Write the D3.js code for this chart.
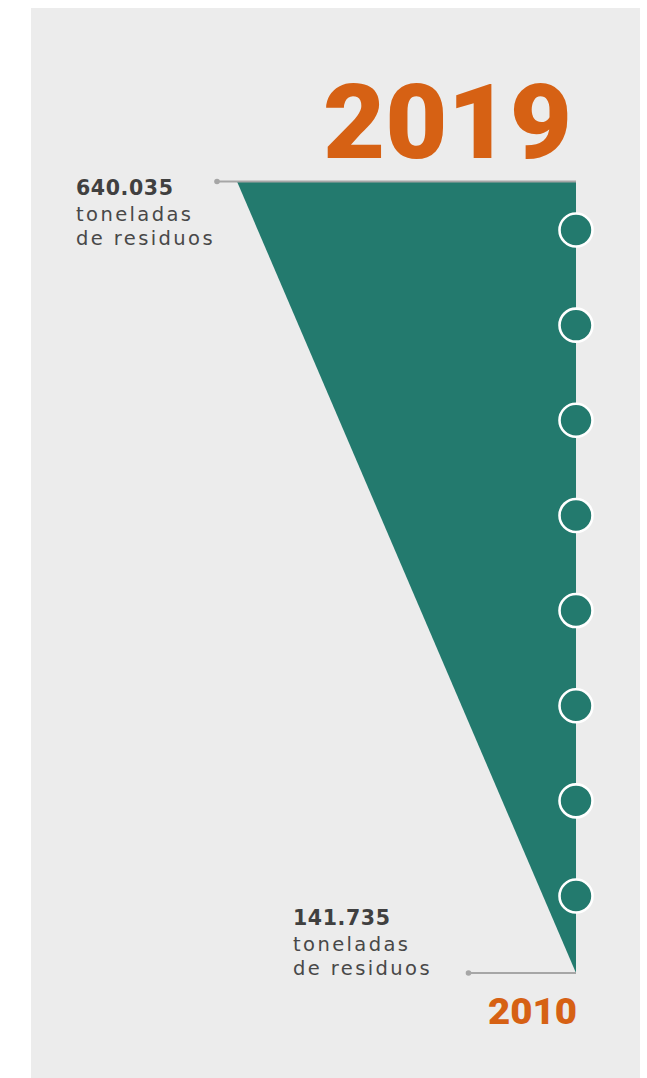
<!DOCTYPE html>
<html><head><meta charset="utf-8">
<script src="https://cdn.jsdelivr.net/npm/d3@7/dist/d3.min.js"></script>
<style>html,body{margin:0;padding:0;background:#fff;}svg{display:block;}</style>
</head><body>
<script>
const years = [2010, 2019];
const values = [141735, 640035];
const valueLabels = ["141.735", "640.035"];
const unitLines = ["toneladas", "de residuos"];
const markerYears = [2011, 2012, 2013, 2014, 2015, 2016, 2017, 2018];

const W = 647, H = 1078;
const svg = d3.select("body").append("svg").attr("width", W).attr("height", H);
svg.append("rect").attr("x", 31).attr("y", 8).attr("width", 609).attr("height", H - 8).attr("fill", "#ececec");

const right = 576;
const y = d3.scaleLinear().domain([2010, 2019]).range([973, 181.5]);
const w = d3.scaleLinear().domain([values[0], values[1]]).range([0, 339]);
const ym = d3.scalePoint().domain(markerYears).range([230, 896]);

const data = years.map((yr, i) => ({yr, v: values[i]}));
const area = d3.area().x0(d => right - w(d.v)).x1(right).y(d => y(d.yr));
svg.append("path").datum(data).attr("d", area).attr("fill", "#237a6e");

// leader lines
const leaders = [
  {yr: 2019, x0: 217},
  {yr: 2010, x0: 468.5}
];
leaders.forEach(l => {
  svg.append("line").attr("x1", l.x0).attr("x2", right).attr("y1", y(l.yr)).attr("y2", y(l.yr))
    .attr("stroke", "#a6a6a6").attr("stroke-width", 2);
  svg.append("circle").attr("cx", l.x0).attr("cy", y(l.yr)).attr("r", 2.8).attr("fill", "#a6a6a6");
});

svg.selectAll("circle.m").data(markerYears).join("circle").attr("class", "m")
  .attr("cx", right).attr("cy", d => ym(d)).attr("r", 16.5)
  .attr("fill", "#237a6e").attr("stroke", "#fff").attr("stroke-width", 2.6);

// year labels
svg.append("text").attr("x", 572).attr("y", 158).attr("text-anchor", "end")
  .attr("font-family", "Roboto").attr("font-weight", 900).attr("font-size", 104)
  .attr("fill", "#d66114").attr("textLength", 249).attr("lengthAdjust", "spacingAndGlyphs").text("2019");
svg.append("text").attr("x", 577).attr("y", 1024).attr("text-anchor", "end")
  .attr("font-family", "Roboto").attr("font-weight", 900).attr("font-size", 36)
  .attr("fill", "#d66114").attr("textLength", 89).attr("lengthAdjust", "spacingAndGlyphs").text("2010");

// value labels
const labelPos = [{x: 293, y: 925}, {x: 76, y: 195}];
const lineDy = [25.7, 24.3];
labelPos.forEach((p, i) => {
  svg.append("text").attr("x", p.x).attr("y", p.y)
    .attr("font-family", "DejaVu Sans").attr("font-size", 20.5).attr("font-weight", 700)
    .attr("fill", "#404040").attr("letter-spacing", 0.6).text(valueLabels[i]);
  let yy = p.y;
  unitLines.forEach((u, j) => {
    yy += lineDy[j];
    svg.append("text").attr("x", p.x).attr("y", yy)
      .attr("font-family", "DejaVu Sans").attr("font-size", 19.5).attr("fill", "#484848")
      .attr("letter-spacing", 2.4).text(u);
  });
});
</script>
</body></html>
